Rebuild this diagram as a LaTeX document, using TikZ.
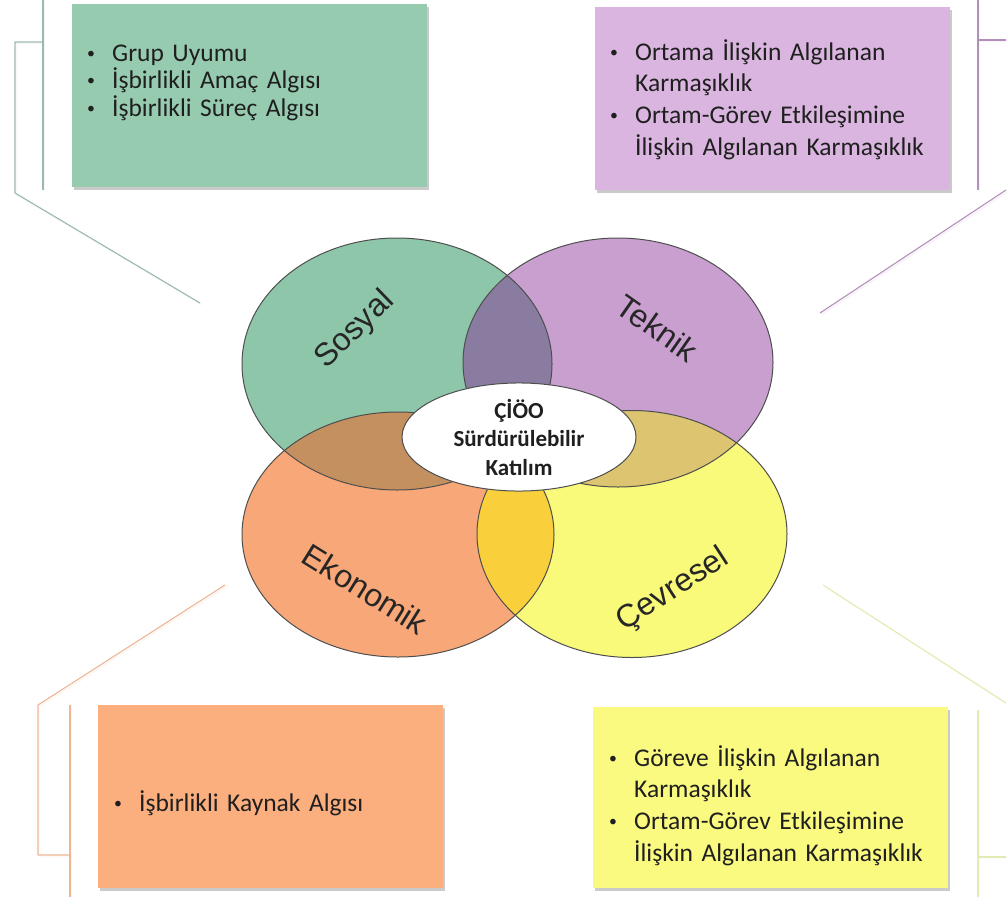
\documentclass[tikz,border=0pt]{standalone}
\usepackage{fontspec}
\usepackage{graphicx}
\setmainfont{Carlito}
\newfontfamily\labelfont{Liberation Sans}
\usetikzlibrary{shadows,shapes.geometric}

% fills of the four circles
\definecolor{sosC}{HTML}{8EC6A9}
\definecolor{tekC}{HTML}{C99FD0}
\definecolor{ekoC}{HTML}{F8A878}
\definecolor{cevC}{HTML}{F9F97A}
% fills where two circles meet
\definecolor{sosTek}{HTML}{8A7BA1}
\definecolor{sosEko}{HTML}{C49060}
\definecolor{tekCev}{HTML}{DCC470}
\definecolor{ekoCev}{HTML}{F9D03C}
% callout boxes
\definecolor{sosBox}{HTML}{96CBB0}
\definecolor{tekBox}{HTML}{D9B5DF}
\definecolor{ekoBox}{HTML}{FBAE7E}
\definecolor{cevBox}{HTML}{FAFA80}
% bracket lines
\definecolor{sosLine}{HTML}{9DB8AD}
\definecolor{tekLine}{HTML}{B48EBB}
\definecolor{ekoLine}{HTML}{EDB696}
\definecolor{cevLine}{HTML}{E4EAB4}
\definecolor{rim}{HTML}{4E4E4E}

\tikzset{
  infobox/.style={minimum width=355pt, minimum height=183pt, anchor=north west,
    inner sep=0pt, drop shadow={shadow xshift=2pt, shadow yshift=-2.5pt,
    opacity=0.35, fill=black!60}},
  bullets/.style={anchor=base west, inner sep=0pt, text width=335pt, align=left,
    text=black!88, font=\fontsize{25.5}{31.7}\selectfont},
  vennlabel/.style={font=\labelfont\fontsize{32}{38}\selectfont, text=black!85},
  rimline/.style={draw=rim, line width=1pt},
  bracket/.style={line width=1.1pt, line join=round},
  bracketshade/.style={line width=1.8pt, draw=black, opacity=0.10,
    transform canvas={shift={(1.5pt,-1.5pt)}}},
  % radii of the four circles
  sosR/.style={x radius=155, y radius=126},
  tekR/.style={x radius=155, y radius=124.5},
  ekoR/.style={x radius=156, y radius=122.5},
  cevR/.style={x radius=155, y radius=123.5},
}

% one bullet item with a hanging indent for its wrapped lines
\newcommand\bitem[1]{\hangindent=25pt\hangafter=1\noindent
  \makebox[25pt][l]{\raisebox{0.1em}{\scalebox{0.62}{\textbullet}}}#1\par}

\begin{document}
\begin{tikzpicture}[x=1pt, y=-1pt]
\useasboundingbox (0,0) rectangle (1006,897);

% centres of the four circles
\coordinate (sos) at (397,364);
\coordinate (tek) at (618,362.5);
\coordinate (eko) at (398,534.5);
\coordinate (cev) at (632,534);

% bracket lines leading from the circles to the boxes
\foreach \s in {bracketshade, bracket} {
  \draw[\s, sosLine] (200,303) -- (15,193) -- (15,42) -- (43,42);
  \draw[\s, sosLine] (43,0) -- (43,190);
  \draw[\s, tekLine] (820,313) -- (1006,190);
  \draw[\s, tekLine] (978,0) -- (978,190);
  \draw[\s, tekLine] (978,40) -- (1006,40);
  \draw[\s, ekoLine] (225,585) -- (38,705) -- (38,855) -- (70,855);
  \draw[\s, ekoLine] (70,705) -- (70,897);
  \draw[\s, cevLine] (823,585) -- (1006,703);
  \draw[\s, cevLine] (978,710) -- (978,897);
  \draw[\s, cevLine] (978,857) -- (1006,857);
}

% callout boxes
\node[infobox, fill=sosBox] (sosbox) at (72,4) {};
\node[infobox, fill=tekBox] (tekbox) at (595,7) {};
\node[infobox, fill=ekoBox, minimum width=345pt] (ekobox) at (98,705) {};
\node[infobox, fill=cevBox, minimum height=181pt] (cevbox) at (593,707) {};

\node[bullets, font=\fontsize{25.5}{27.5}\selectfont] (sostext) at (87,61) {%
  \bitem{Grup Uyumu}\bitem{İşbirlikli Amaç Algısı}\bitem{İşbirlikli Süreç Algısı}};
\node[bullets] (tektext) at (610,60) {%
  \bitem{Ortama İlişkin Algılanan\newline Karmaşıklık}%
  \bitem{Ortam-Görev Etkileşimine\newline İlişkin Algılanan Karmaşıklık}};
\node[bullets] (ekotext) at (114,811) {%
  \bitem{İşbirlikli Kaynak Algısı}};
\node[bullets] (cevtext) at (609,766) {%
  \bitem{Göreve İlişkin Algılanan\newline Karmaşıklık}%
  \bitem{Ortam-Görev Etkileşimine\newline İlişkin Algılanan Karmaşıklık}};

% the four circles
\fill[sosC] (sos) ellipse [sosR];
\fill[tekC] (tek) ellipse [tekR];
\fill[ekoC] (eko) ellipse [ekoR];
\fill[cevC] (cev) ellipse [cevR];

% pairwise overlaps
\begin{scope}
  \clip (sos) ellipse [sosR];
  \fill[sosTek] (tek) ellipse [tekR];
\end{scope}
\begin{scope}
  \clip (sos) ellipse [sosR];
  \fill[sosEko] (eko) ellipse [ekoR];
\end{scope}
\begin{scope}
  \clip (tek) ellipse [tekR];
  \fill[tekCev] (cev) ellipse [cevR];
\end{scope}
\begin{scope}
  \clip (eko) ellipse [ekoR];
  \fill[ekoCev] (cev) ellipse [cevR];
\end{scope}

% outlines
\draw[rimline] (sos) ellipse [sosR];
\draw[rimline] (tek) ellipse [tekR];
\draw[rimline] (eko) ellipse [ekoR];
\draw[rimline] (cev) ellipse [cevR];

% circle labels
\node[vennlabel, rotate=44] (soslabel) at (355,330) {Sosyal};
\node[vennlabel, rotate=-35] (teklabel) at (657,328) {Teknik};
\node[vennlabel, rotate=-32] (ekolabel) at (365,589) {Ekonomik};
\node[vennlabel, rotate=33] (cevlabel) at (673,590) {Çevresel};

% centre
\node[ellipse, draw=rim, line width=1pt, fill=white, minimum width=234pt,
  minimum height=108pt, inner sep=0pt, align=center,
  font=\bfseries\fontsize{23}{28.5}\selectfont, text=black!88] (core) at (519,437)
  {ÇİÖO\\Sürdürülebilir\\Katılım};
\end{tikzpicture}
\end{document}
